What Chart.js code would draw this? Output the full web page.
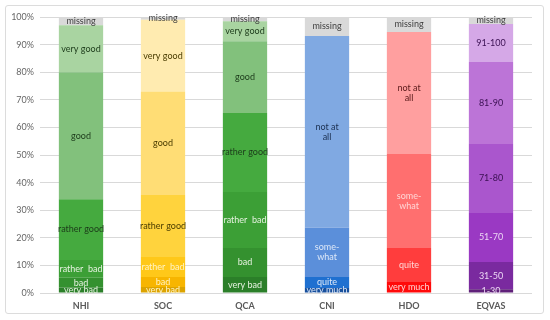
<!DOCTYPE html>
<html>
<head>
<meta charset="utf-8">
<script src="https://cdn.jsdelivr.net/npm/chart.js@4.4.1/dist/chart.umd.min.js"></script>
<style>
  body { margin: 0; background: #fff; }
  #wrap { position: relative; width: 550px; height: 320px; }
  #frame { position: absolute; left: 5px; top: 5px; width: 537px; height: 307px; border: 1px solid #dcdcdc; border-radius: 3px; }
  canvas { position: absolute; left: 0; top: 0; }
</style>
</head>
<body>
<div id="wrap">
  <div id="frame"></div>
  <canvas id="stackChart" width="550" height="320"></canvas>
</div>
<script>
const categories = ['NHI', 'SOC', 'QCA', 'CNI', 'HDO', 'EQVAS'];

// values per bar, bottom segment first (percent)
const nhiValues = [2, 3.5, 6.5, 22, 46, 17, 3];
const socValues = [2.2, 3.6, 7.2, 22.5, 37.5, 26, 1];
const qcaValues = [5.8, 10.5, 20.3, 28.6, 26, 7.3, 1.5];
const cniValues = [1.8, 4, 17.8, 69.5, 6.9];
const hdoValues = [4, 12.3, 34.1, 44.2, 5.4];
const eqvasValues = [1.4, 9.8, 17.8, 25, 29.7, 13.8, 2.5];

const nhiNames = ['very bad', 'bad', 'rather  bad', 'rather good', 'good', 'very good', 'missing'];
const socNames = ['very bad', 'bad', 'rather  bad', 'rather good', 'good', 'very good', 'missing'];
const qcaNames = ['very bad', 'bad', 'rather  bad', 'rather good', 'good', 'very good', 'missing'];
const cniNames = ['very much', 'quite', 'some-\nwhat', 'not at\nall', 'missing'];
const hdoNames = ['very much', 'quite', 'some-\nwhat', 'not at\nall', 'missing'];
const eqvasNames = ['1-30', '31-50', '51-70', '71-80', '81-90', '91-100', 'missing'];

const barValues = [nhiValues, socValues, qcaValues, cniValues, hdoValues, eqvasValues];
const barNames = [nhiNames, socNames, qcaNames, cniNames, hdoNames, eqvasNames];

const greens = ['#2b7f29', '#34912f', '#3c9f36', '#45aa3f', '#82c17c', '#a9d4a1', '#d9d9d9'];
const barColors = [
    greens,
    ['#dca300', '#f7b500', '#ffc819', '#ffd33d', '#ffdd75', '#ffebb0', '#d9d9d9'],
    greens,
    ['#174f9c', '#1f70d0', '#5b8fda', '#80a9e2', '#d9d9d9'],
    ['#ff0a0a', '#ff3d3d', '#ff6f6f', '#ff9f9f', '#d9d9d9'],
    ['#5f2079', '#7a2a9f', '#9a39c3', '#aa56cd', '#bc74d7', '#d5a8e7', '#d9d9d9']
];
const labelColors = [
    ['#e6f2e0', '#e6f2e0', '#e6f2e0', '#1c3a1a', '#1c3a1a', '#1c3a1a', '#404040'],
    ['#fff3c4', '#fff3c4', '#fff3c4', '#4a3c00', '#4a3c00', '#4a3c00', '#404040'],
    ['#e6f2e0', '#e6f2e0', '#e6f2e0', '#1c3a1a', '#1c3a1a', '#1c3a1a', '#404040'],
    ['#dde8f8', '#dde8f8', '#dde8f8', '#1a2f50', '#404040'],
    ['#ffd6d6', '#ffd6d6', '#ffd6d6', '#5a1a1a', '#404040'],
    ['#ecd6f4', '#ecd6f4', '#ecd6f4', '#3a1052', '#3a1052', '#3a1052', '#404040']
];

const levelCount = Math.max(...barValues.map(v => v.length));
const datasets = [];
for (let level = 0; level < levelCount; level++) {
    datasets.push({
        data: barValues.map(v => v[level] || 0),
        backgroundColor: barColors.map(c => c[level] || 'transparent'),
        borderWidth: 0,
        categoryPercentage: 1,
        barPercentage: 0.54
    });
}

const segmentLabels = {
    id: 'segmentLabels',
    afterDatasetsDraw(chart) {
        const ctx = chart.ctx;
        ctx.save();
        ctx.font = '9px Lato';
        ctx.textAlign = 'center';
        ctx.textBaseline = 'middle';
        chart.data.datasets.forEach((ds, i) => {
            chart.getDatasetMeta(i).data.forEach((bar, j) => {
                const text = barNames[j][i];
                if (!text) return;
                const lines = text.split('\n');
                const mid = (bar.y + bar.base) / 2;
                ctx.fillStyle = labelColors[j][i];
                lines.forEach((line, k) => {
                    ctx.fillText(line, bar.x, mid + (k - (lines.length - 1) / 2) * 10);
                });
            });
        });
        ctx.restore();
    }
};

const ctx = document.getElementById('stackChart').getContext('2d');
new Chart(ctx, {
    type: 'bar',
    data: { labels: categories, datasets: datasets },
    plugins: [segmentLabels],
    options: {
        responsive: false,
        animation: false,
        layout: { padding: { top: 17, right: 18, bottom: 6, left: 0 } },
        plugins: { legend: { display: false }, tooltip: { enabled: false } },
        scales: {
            x: {
                stacked: true,
                grid: { display: false },
                border: { display: false },
                ticks: { color: '#595959', font: { family: 'Lato', size: 9, weight: 'bold' }, padding: 0 },
                afterFit(scale) { scale.height = 21; }
            },
            y: {
                stacked: true,
                min: 0,
                max: 100,
                grid: { color: '#d9d9d9', drawTicks: false },
                border: { display: false },
                ticks: {
                    stepSize: 10,
                    color: '#666666',
                    font: { family: 'Lato', size: 9 },
                    padding: 6,
                    callback: v => v + '%'
                },
                afterFit(scale) { scale.width = 40; }
            }
        }
    }
});
</script>
</body>
</html>
